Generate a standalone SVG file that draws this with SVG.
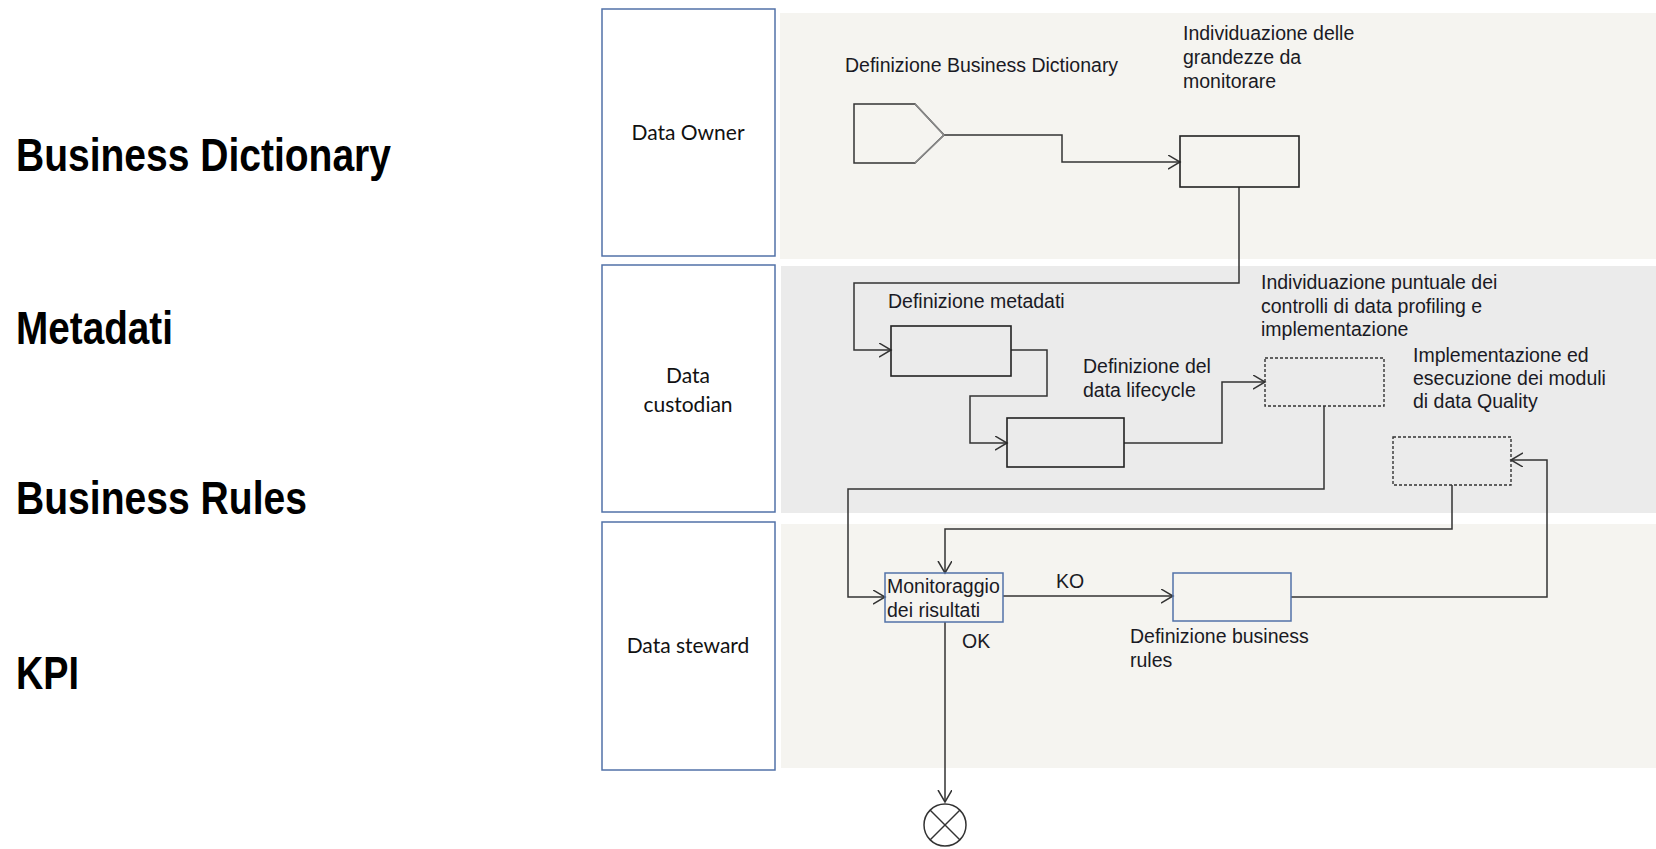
<svg xmlns="http://www.w3.org/2000/svg" width="1656" height="849" viewBox="0 0 1656 849">
<defs>
<style>
.title{font-family:"Liberation Sans",Arial,sans-serif;font-weight:bold;font-size:47px;fill:#000}
.lanebox{fill:#fff;stroke:#5272a8;stroke-width:1.5}
.lanetxt{font-family:Lato,"Noto Sans",sans-serif;font-size:21px;fill:#111;text-anchor:middle}
.lbl{font-family:"Liberation Sans",Arial,sans-serif;font-size:19.5px;fill:#1a1a24}
.box{fill:none;stroke:#222;stroke-width:1.6}
.bbox{fill:none;stroke:#5272a8;stroke-width:1.5}
.dbox{fill:none;stroke:#333;stroke-width:1.4;stroke-dasharray:3 2}
.conn{fill:none;stroke:#333;stroke-width:1.5}
</style>
<marker id="arr" markerUnits="userSpaceOnUse" markerWidth="16" markerHeight="16" refX="12" refY="7" orient="auto">
<path d="M0,0 L12,7 L0,14" fill="none" stroke="#333" stroke-width="1.5"/>
</marker>
</defs>
<rect width="1656" height="849" fill="#fff"/>

<g id="titles">
<text class="title" x="16" y="171" textLength="375" lengthAdjust="spacingAndGlyphs">Business Dictionary</text>
<text class="title" x="16" y="344" textLength="157" lengthAdjust="spacingAndGlyphs">Metadati</text>
<text class="title" x="16" y="514" textLength="291" lengthAdjust="spacingAndGlyphs">Business Rules</text>
<text class="title" x="16" y="689" textLength="63" lengthAdjust="spacingAndGlyphs">KPI</text>
</g>

<g id="lane-bgs">
<rect x="780" y="13" width="876" height="246" fill="#f5f4f0"/>
<rect x="781" y="266" width="875" height="247" fill="#ebebeb"/>
<rect x="781" y="524" width="875" height="244" fill="#f5f4f0"/>
</g>

<g id="lane-data-owner">
<rect class="lanebox" x="602" y="9" width="173" height="247"/>
<text class="lanetxt" x="688" y="140">Data Owner</text>
</g>
<g id="lane-data-custodian">
<rect class="lanebox" x="602" y="265" width="173" height="247"/>
<text class="lanetxt" x="688" y="383">Data</text>
<text class="lanetxt" x="688" y="412">custodian</text>
</g>
<g id="lane-data-steward">
<rect class="lanebox" x="602" y="522" width="173" height="248"/>
<text class="lanetxt" x="688" y="653">Data steward</text>
</g>

<g id="connectors">
<polyline class="conn" points="944,135 1062,135 1062,162 1180,162" marker-end="url(#arr)"/>
<polyline class="conn" points="1239,187 1239,283 854,283 854,350 891,350" marker-end="url(#arr)"/>
<polyline class="conn" points="1011,350 1047,350 1047,396 970,396 970,443 1007,443" marker-end="url(#arr)"/>
<polyline class="conn" points="1124,443 1222,443 1222,382 1265,382" marker-end="url(#arr)"/>
<polyline class="conn" points="1324,406 1324,489 848,489 848,597 885,597" marker-end="url(#arr)"/>
<polyline class="conn" points="1452,485 1452,529 945,529 945,573" marker-end="url(#arr)"/>
<polyline class="conn" points="1003,596 1173,596" marker-end="url(#arr)"/>
<polyline class="conn" points="1291,597 1547,597 1547,460 1511,460" marker-end="url(#arr)"/>
<polyline class="conn" points="945,622 945,802" marker-end="url(#arr)"/>
</g>

<g id="node-definizione-business-dictionary">
<polygon points="854,104 915,104 944,135 915,163 854,163" fill="none" stroke="#333" stroke-width="1.5"/>
<polyline points="915,104 944,135 915,163" fill="none" stroke="#8a8a8a" stroke-width="1.5"/>
<text class="lbl" x="845" y="72">Definizione Business Dictionary</text>
</g>

<g id="node-individuazione-grandezze">
<rect class="box" x="1180" y="136" width="119" height="51"/>
<text class="lbl" x="1183" y="40">Individuazione delle</text>
<text class="lbl" x="1183" y="64">grandezze da</text>
<text class="lbl" x="1183" y="88">monitorare</text>
</g>

<g id="node-definizione-metadati">
<rect class="box" x="891" y="326" width="120" height="50"/>
<text class="lbl" x="888" y="308">Definizione metadati</text>
</g>

<g id="node-data-lifecycle">
<rect class="box" x="1007" y="418" width="117" height="49"/>
<text class="lbl" x="1083" y="373">Definizione del</text>
<text class="lbl" x="1083" y="397">data lifecycle</text>
</g>

<g id="node-controlli-profiling">
<rect class="dbox" x="1265" y="358" width="119" height="48"/>
<text class="lbl" x="1261" y="289">Individuazione puntuale dei</text>
<text class="lbl" x="1261" y="313">controlli di data profiling e</text>
<text class="lbl" x="1261" y="336">implementazione</text>
</g>

<g id="node-moduli-quality">
<rect class="dbox" x="1393" y="437" width="118" height="48"/>
<text class="lbl" x="1413" y="362">Implementazione ed</text>
<text class="lbl" x="1413" y="385">esecuzione dei moduli</text>
<text class="lbl" x="1413" y="408">di data Quality</text>
</g>

<g id="node-monitoraggio">
<rect class="bbox" x="885" y="573" width="118" height="49"/>
<text class="lbl" x="887" y="593">Monitoraggio</text>
<text class="lbl" x="887" y="617">dei risultati</text>
</g>

<g id="node-business-rules">
<rect class="bbox" x="1173" y="573" width="118" height="48"/>
<text class="lbl" x="1130" y="643">Definizione business</text>
<text class="lbl" x="1130" y="667">rules</text>
</g>

<g id="edge-labels">
<text class="lbl" x="1056" y="588">KO</text>
<text class="lbl" x="962" y="648">OK</text>
</g>

<g id="node-end">
<circle cx="945" cy="825" r="21" fill="#fff" stroke="#333" stroke-width="1.5"/>
<line x1="930" y1="810" x2="960" y2="840" stroke="#333" stroke-width="1.5"/>
<line x1="960" y1="810" x2="930" y2="840" stroke="#333" stroke-width="1.5"/>
</g>
</svg>
